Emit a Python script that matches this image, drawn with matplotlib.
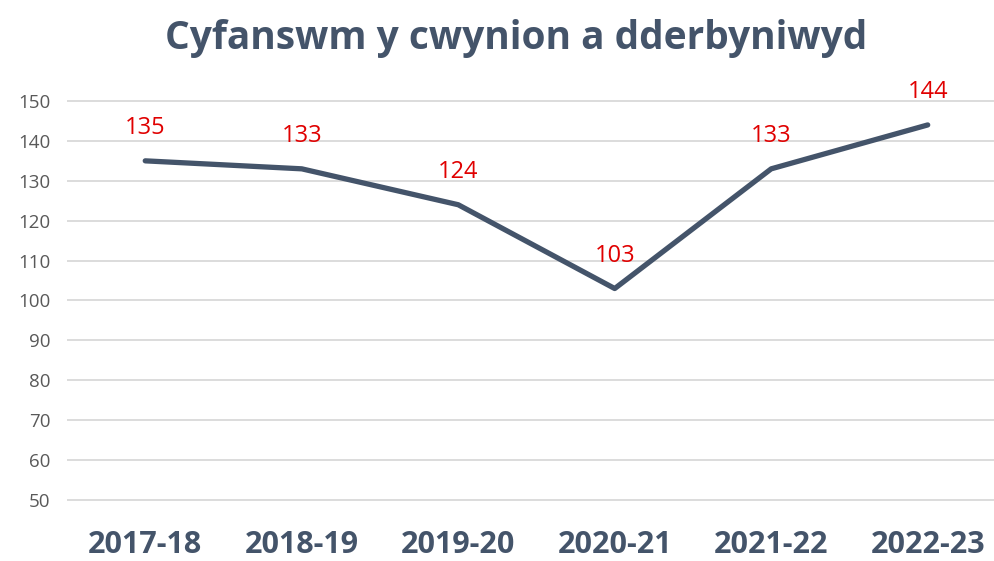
import matplotlib
matplotlib.use("Agg")
import matplotlib.pyplot as plt

years = ["2017-18", "2018-19", "2019-20", "2020-21", "2021-22", "2022-23"]
complaints = [135, 133, 124, 103, 133, 144]
yticks = [50, 60, 70, 80, 90, 100, 110, 120, 130, 140, 150]

plt.rcParams['font.family'] = ['Open Sans', 'DejaVu Sans']

fig = plt.figure(figsize=(9.95, 5.61), dpi=100)
ax = fig.add_axes([67 / 995, 1 - 502 / 561, (995 - 67) / 995, (502 - 99) / 561])

x = range(len(years))
ax.plot(x, complaints, color="#44546A", linewidth=3.8, solid_capstyle="round", zorder=3)
for xi, v in zip(x, complaints):
    ax.annotate(str(v), (xi, v), xytext=(0, 15), textcoords="offset points",
                ha="center", va="bottom", color="#E00000", fontsize=17, clip_on=False)

ax.set_xlim(-0.5, 5.43)
ax.set_ylim(49.5, 150.5)
ax.set_yticks(yticks)
ax.set_xticks(list(x))
ax.set_xticklabels(years, fontsize=22, fontweight="bold", color="#44546A")
ax.tick_params(axis="y", labelsize=13.5, colors="#595959", length=0, pad=12)
ax.tick_params(axis="x", length=0, pad=20)
ax.grid(axis="y", color="#D9D9D9", linewidth=1.3)
ax.set_axisbelow(True)
for s in ax.spines.values():
    s.set_visible(False)

fig.text(516 / 995, 1 - 38 / 561, "Cyfanswm y cwynion a dderbyniwyd", ha="center", va="center",
         fontsize=28, fontweight="bold", color="#44546A")

fig.savefig("out.png", dpi=100)
